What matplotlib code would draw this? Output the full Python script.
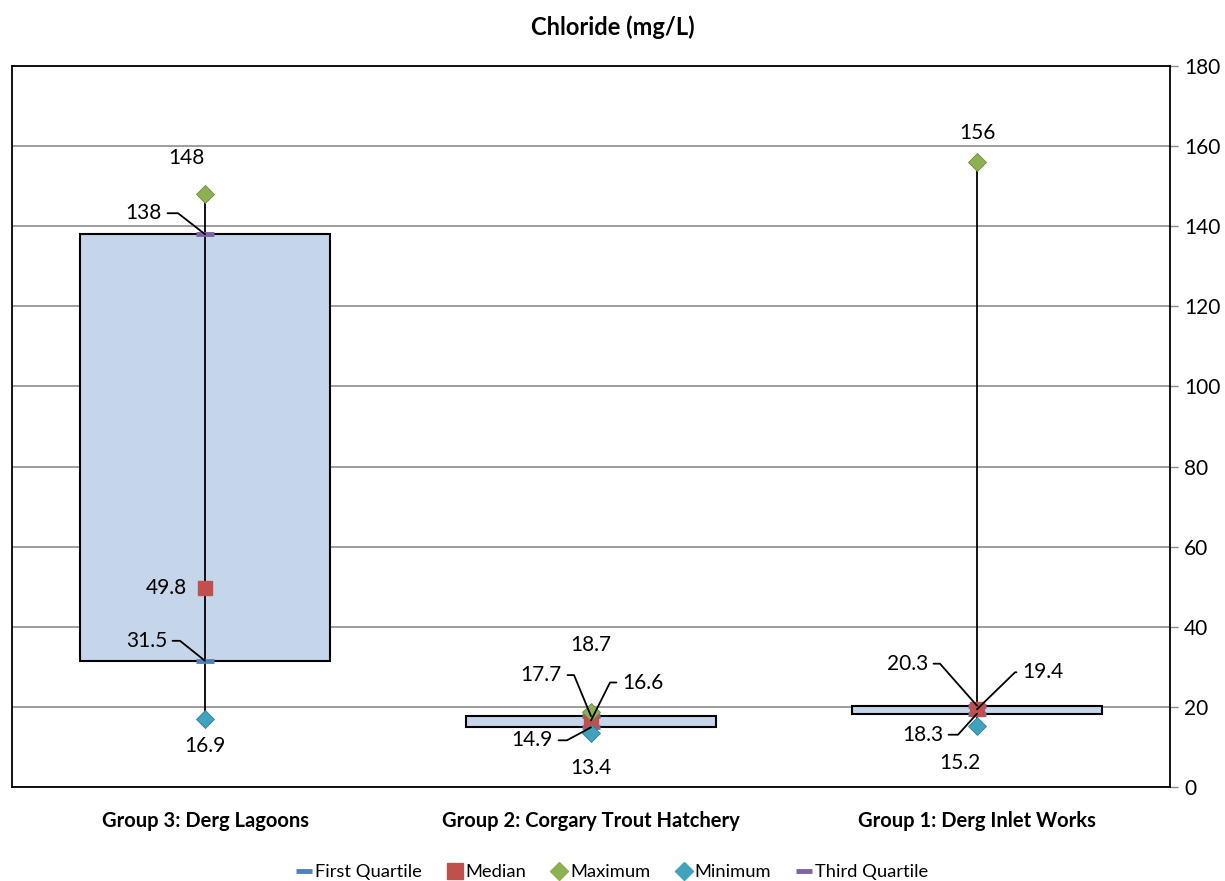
import math
import matplotlib
matplotlib.use("Agg")
import matplotlib.pyplot as plt
from matplotlib.lines import Line2D

plt.rcParams['font.family'] = ['Lato', 'DejaVu Sans']

groups = ["Group 3: Derg Lagoons", "Group 2: Corgary Trout Hatchery", "Group 1: Derg Inlet Works"]
first_quartile = [31.5, 14.9, 18.3]
median = [49.8, 16.6, 19.4]
maximum = [148, 18.7, 156]
minimum = [16.9, 13.4, 15.2]
third_quartile = [138, 17.7, 20.3]

C_Q1 = "#4F81BD"
C_MED = "#C0504D"
C_MAX = "#8DB050"
C_MIN = "#3FA3BD"
C_Q3 = "#8064A2"
BOX_FILL = "#C5D5EA"

fig = plt.figure(figsize=(12.25, 8.81), dpi=100)
ax = fig.add_axes([0.0098, 0.1067, 0.9453, 0.8184])

x = list(range(len(groups)))
heights = [q3 - q1 for q1, q3 in zip(first_quartile, third_quartile)]
ax.bar(x, heights, bottom=first_quartile, width=0.65, color=BOX_FILL,
       edgecolor="black", linewidth=1.5, zorder=2)
ax.vlines(x, minimum, maximum, color="black", linewidth=1.3, zorder=3)

ax.plot(x, first_quartile, ls="none", marker="_", ms=13, mew=3.5, color=C_Q1, zorder=4)
ax.plot(x, third_quartile, ls="none", marker="_", ms=13, mew=3.5, color=C_Q3, zorder=4)
ax.plot(x, median, ls="none", marker="s", ms=10, color=C_MED, zorder=5)
ax.plot(x, maximum, ls="none", marker="D", ms=9, color=C_MAX, mec="#6E8B3D", mew=0.6, zorder=5)
ax.plot(x, minimum, ls="none", marker="D", ms=9, color=C_MIN, mec="#2F8199", mew=0.6, zorder=5)

LABEL_SIZE = 15


def plain_label(xi, val, dx, dy, ha="center"):
    ax.annotate(f"{val:g}", (xi, val), xytext=(dx, dy), textcoords="offset pixels",
                ha=ha, va="center", fontsize=LABEL_SIZE, zorder=6)


def leader_label(xi, val, dx, dy, cx, ha="right"):
    # text sits at (dx, dy); leader runs flat to cx then straight down to the point
    ang = math.degrees(math.atan2(dy, cx))
    relpos = (1, 0.5) if ha == "right" else (0, 0.5)
    ax.annotate(f"{val:g}", (xi, val), xytext=(dx, dy), textcoords="offset pixels",
                ha=ha, va="center", fontsize=LABEL_SIZE, zorder=6,
                arrowprops=dict(arrowstyle="-", color="black", lw=1.3, relpos=relpos,
                                shrinkA=2, shrinkB=0,
                                connectionstyle=f"angle,angleA=0,angleB={ang:.1f},rad=0"))


# Group 3
plain_label(0, maximum[0], -19, 36)
leader_label(0, third_quartile[0], -43, 21, -27)
plain_label(0, median[0], -18, 0, ha="right")
leader_label(0, first_quartile[0], -38, 20, -25)
plain_label(0, minimum[0], 0, -27)

# Group 2
plain_label(1, maximum[1], 0, 67)
leader_label(1, third_quartile[1], -29, 41, -17)
leader_label(1, median[1], 31, 38, 19, ha="left")
leader_label(1, first_quartile[1], -38, -13, -24)
plain_label(1, minimum[1], 0, -35)

# Group 1
plain_label(2, maximum[2], 0, 29)
leader_label(2, third_quartile[2], -49, 42, -37)
leader_label(2, median[2], 45, 37, 38, ha="left")
leader_label(2, first_quartile[2], -34, -21, -19)
plain_label(2, minimum[2], -17, -37)

ax.set_xlim(-0.5, 2.5)
ax.set_ylim(0, 180)
ax.set_yticks(range(0, 181, 20))
ax.yaxis.tick_right()
ax.tick_params(axis="y", length=6, width=1, labelsize=15, pad=4, color="#888888")
ax.set_xticks(x)
ax.set_xticklabels(groups, fontsize=14.5, fontweight="bold")
ax.tick_params(axis="x", length=0, pad=17)
ax.grid(axis="y", color="#8C8C8C", linewidth=1.2, zorder=0)
ax.set_axisbelow(True)
for sp in ax.spines.values():
    sp.set_color("black")
    sp.set_linewidth(1.3)

fig.text(0.5, 0.969, "Chloride (mg/L)", ha="center", va="center",
         fontsize=17, fontweight="bold")

handles = [
    Line2D([], [], ls="none", marker="_", ms=12, mew=3.5, color=C_Q1),
    Line2D([], [], ls="none", marker="s", ms=11, color=C_MED),
    Line2D([], [], ls="none", marker="D", ms=9, color=C_MAX),
    Line2D([], [], ls="none", marker="D", ms=9, color=C_MIN),
    Line2D([], [], ls="none", marker="_", ms=12, mew=3.5, color=C_Q3),
]
names = ["First Quartile", "Median", "Maximum", "Minimum", "Third Quartile"]
fig.legend(handles, names, loc="center", bbox_to_anchor=(0.5, 0.0102), ncol=5,
           frameon=False, fontsize=13.2, handlelength=0.8, handletextpad=0.2,
           columnspacing=1.4)

fig.savefig("out.png", dpi=100)
